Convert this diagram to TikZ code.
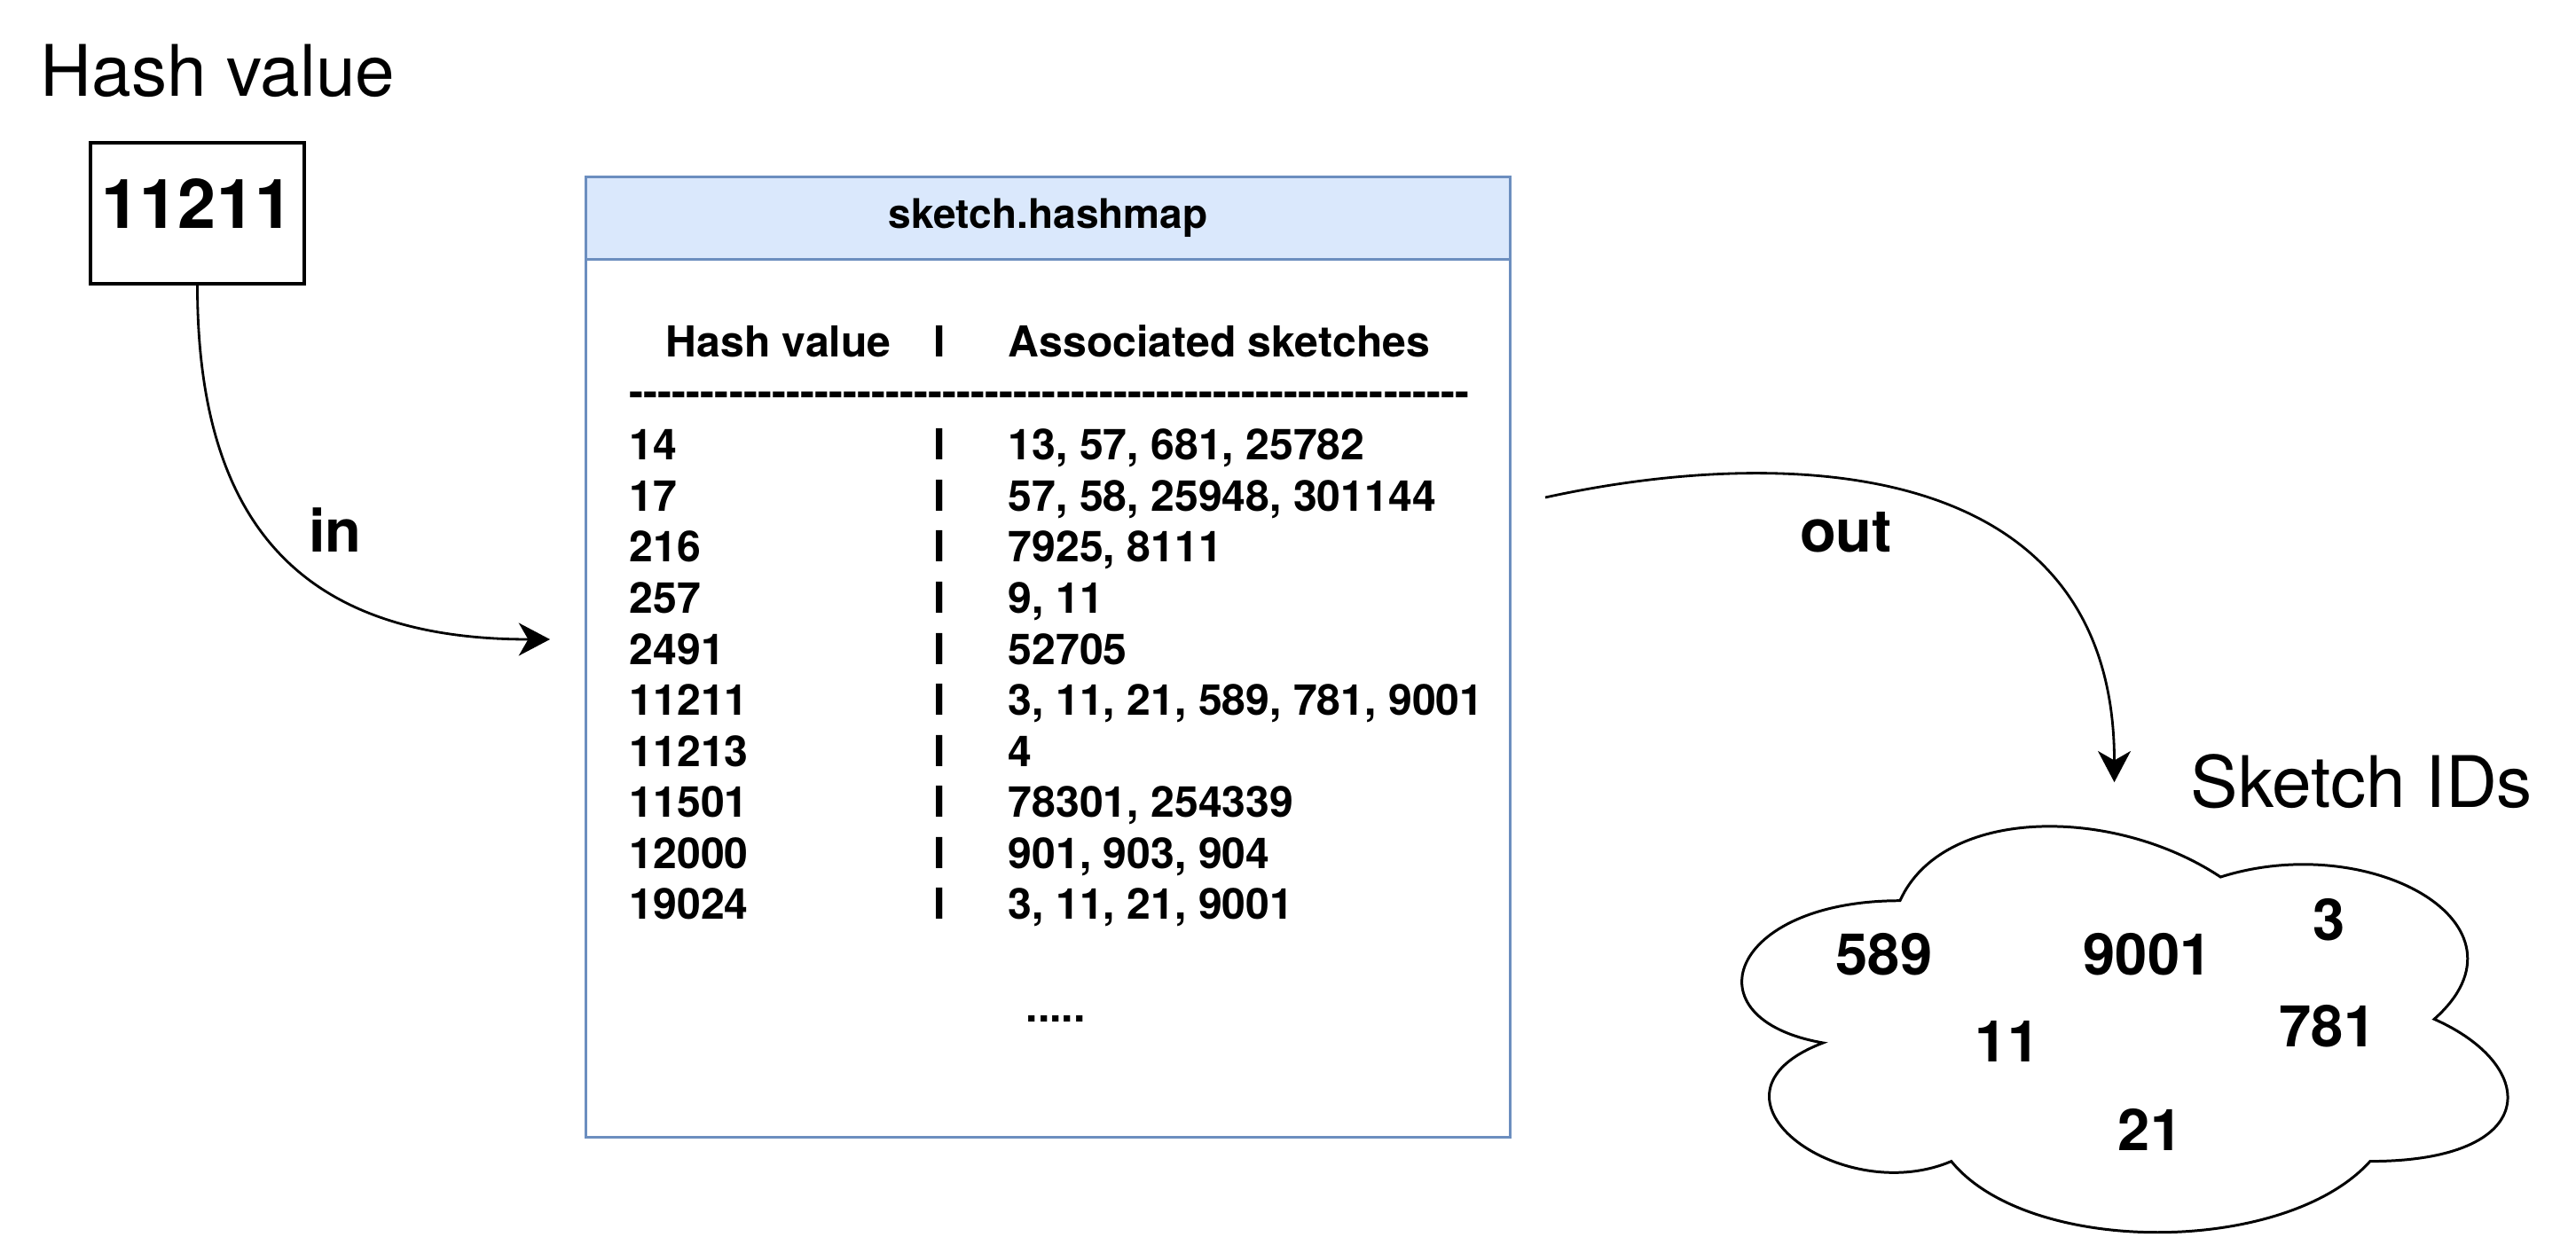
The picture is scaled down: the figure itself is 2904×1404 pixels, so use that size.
\documentclass[tikz,border=0pt]{standalone}
\usepackage{fontspec}
\setmainfont{TeX Gyre Heros}
\usetikzlibrary{positioning,arrows.meta}
\definecolor{hdrfill}{HTML}{DAE8FC}
\definecolor{hdrline}{HTML}{6C8EBF}
\tikzset{
  big/.style={font=\fontsize{22.8}{27}\selectfont,inner sep=0pt,anchor=base west},
  cell/.style={font=\bfseries\fontsize{13.7}{16.4}\selectfont,inner sep=0pt,anchor=base west},
  tag/.style={font=\bfseries\fontsize{19}{22}\selectfont,inner sep=0pt},
  idnum/.style={font=\bfseries\fontsize{18.5}{22}\selectfont,inner sep=0pt},
}

\begin{document}
\begin{tikzpicture}[x=0.01cm,y=-0.01cm,>={Stealth[length=10pt,width=10.5pt,inset=3pt]}]
\useasboundingbox (0,0) rectangle (2904,1404);
\node[big] (title) at (45,109) {Hash value};
\node[draw,line width=1pt,minimum width=2.41cm,minimum height=1.59cm,text height=15.6pt,text depth=5.7pt,font=\bfseries\fontsize{22}{26}\selectfont] (key) at (222.5,240.5) {11211};

\node[draw=hdrline,line width=1pt,minimum width=10.41cm,minimum height=10.82cm] (map) at (1181.5,741) {};
\node[draw=hdrline,fill=hdrfill,line width=1pt,minimum width=10.41cm,minimum height=0.93cm,anchor=north,font=\bfseries\fontsize{13.1}{16}\selectfont] (maphead) at (map.north) {sketch.hashmap};
\node[cell] (colA) at (750,403) {Hash value};
\node[cell,anchor=base] (colbar) at (1059,403) {I};
\node[cell] (colB) at (1136,403) {Associated sketches};
\node[cell] (rule) at (709,459) {\foreach \i in {1,...,59}{-\kern0pt}};
\foreach \k/\v [count=\r] in {{14/13, 57, 681, 25782},{17/57, 58, 25948, 301144},{216/7925, 8111},{257/9, 11},{2491/52705},{11211/3, 11, 21, 589, 781, 9001},{11213/4},{11501/78301, 254339},{12000/901, 903, 904},{19024/3, 11, 21, 9001}}{
  \node[cell] (hk\r) at (709,461.5+57.5*\r) {\k};
  \node[cell,anchor=base] (bar\r) at (1059,461.5+57.5*\r) {I};
  \node[cell] (sk\r) at (1136,461.5+57.5*\r) {\v};
}
\node[cell] (more) at (1156,1152) {.....};

\node[big] (idtitle) at (2469,910) {Sketch IDs};
\node[minimum width=9.63cm,minimum height=5.34cm,inner sep=0pt] (ids) at (2383.5,1150) {};
\begin{scope}[shift={(ids.north west)},x=9.63cm,y=-5.34cm]
\draw[line width=0.85pt] (0.25,0.25) .. controls (0.05,0.25) and (0,0.5) .. (0.16,0.55)
  .. controls (0,0.66) and (0.18,0.9) .. (0.31,0.8)
  .. controls (0.4,1) and (0.7,1) .. (0.8,0.8)
  .. controls (1,0.8) and (1,0.6) .. (0.875,0.5)
  .. controls (1,0.3) and (0.8,0.1) .. (0.625,0.2)
  .. controls (0.5,0.05) and (0.3,0.05) .. cycle;
\end{scope}
\node[idnum] (n589) at (2124,1076) {589};
\node[idnum] (n9001) at (2421,1076) {9001};
\node[idnum] (n3) at (2626,1037) {3};
\node[idnum] (n11) at (2263,1174) {11};
\node[idnum] (n781) at (2624,1157) {781};
\node[idnum] (n21) at (2424,1274) {21};

\coordinate (inend) at (620,721);
\draw[->,line width=0.8pt] (key.south) .. controls +(0,280) and +(-270,0) .. (inend);
\node[tag] (inlbl) at (378,598) {in};
\coordinate (outstart) at (1742,561);
\draw[->,line width=0.8pt] (outstart) .. controls +(250,-55) and +(0,-380) .. (ids.north);
\node[tag] (outlbl) at (2081,600) {out};
\end{tikzpicture}
\end{document}
